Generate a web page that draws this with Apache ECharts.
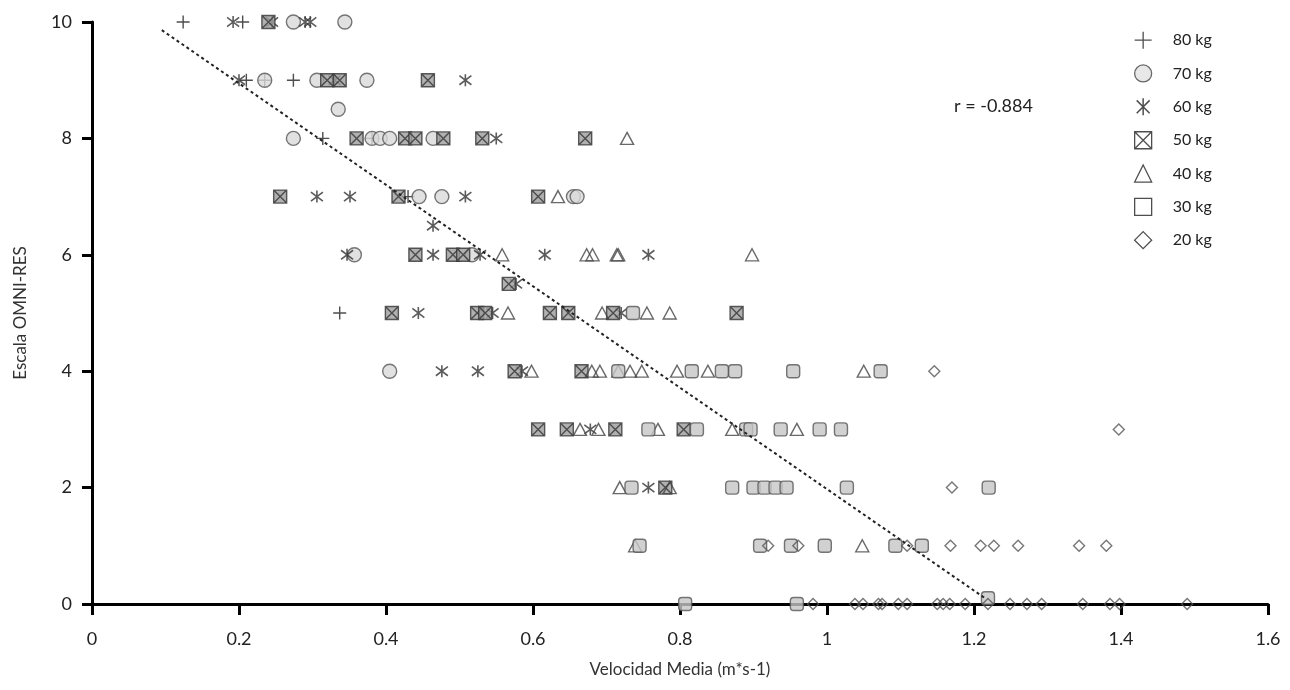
<!DOCTYPE html>
<html>
<head>
<meta charset="utf-8">
<script src="https://cdn.jsdelivr.net/npm/echarts@6/dist/echarts.min.js"></script>
<style>
  html, body { margin: 0; padding: 0; background: #fff; }
  #chart { width: 1290px; height: 690px; }
</style>
</head>
<body>
<div id="chart"></div>
<script>
// ---- Data (x = Velocidad Media, y = Escala OMNI-RES) ----
const seriesNames = ['80 kg', '70 kg', '60 kg', '50 kg', '40 kg', '30 kg', '20 kg'];

const kg80 = [[0.124,10],[0.205,10],[0.21,9],[0.235,9],[0.274,9],[0.314,8],[0.381,8],[0.43,7],[0.337,5]];

const kg70 = [[0.274,10],[0.344,10],[0.235,9],[0.306,9],[0.374,9],[0.335,8.5],[0.274,8],[0.381,8],
  [0.392,8],[0.405,8],[0.464,8],[0.445,7],[0.476,7],[0.655,7],[0.66,7],[0.357,6],[0.517,6],[0.405,4]];

const kg60 = [[0.192,10],[0.245,10],[0.29,10],[0.297,10],[0.2,9],[0.33,9],[0.508,9],[0.55,8],
  [0.306,7],[0.351,7],[0.508,7],[0.464,6.5],[0.347,6],[0.464,6],[0.528,6],[0.616,6],[0.757,6],
  [0.577,5.5],[0.444,5],[0.545,5],[0.72,5],[0.476,4],[0.525,4],[0.585,4],[0.678,3],[0.757,2]];

const kg50 = [[0.24,10],[0.32,9],[0.337,9],[0.457,9],[0.36,8],[0.426,8],[0.44,8],[0.478,8],[0.531,8],
  [0.671,8],[0.256,7],[0.417,7],[0.607,7],[0.44,6],[0.491,6],[0.505,6],[0.567,5.5],[0.408,5],
  [0.524,5],[0.535,5],[0.623,5],[0.648,5],[0.709,5],[0.877,5],[0.575,4],[0.666,4],[0.607,3],
  [0.646,3],[0.712,3],[0.805,3],[0.78,2]];

const kg40 = [[0.728,8],[0.634,7],[0.558,6],[0.673,6],[0.681,6],[0.714,6],[0.716,6],[0.898,6],
  [0.566,5],[0.694,5],[0.755,5],[0.786,5],[0.598,4],[0.68,4],[0.691,4],[0.716,4],[0.732,4],
  [0.748,4],[0.796,4],[0.838,4],[1.05,4],[0.664,3],[0.689,3],[0.77,3],[0.871,3],[0.959,3],
  [0.718,2],[0.786,2],[0.739,1],[1.048,1]];

const kg30 = [[0.736,5],[0.716,4],[0.816,4],[0.857,4],[0.875,4],[0.954,4],[1.073,4],
  [0.757,3],[0.823,3],[0.89,3],[0.896,3],[0.937,3],[0.99,3],[1.019,3],
  [0.734,2],[0.871,2],[0.9,2],[0.915,2],[0.93,2],[0.945,2],[1.027,2],[1.22,2],
  [0.745,1],[0.909,1],[0.951,1],[0.997,1],[1.093,1],[1.129,1],
  [0.807,0],[0.959,0],[1.219,0.1]];

const kg20 = [[1.146,4],[1.397,3],[1.17,2],[0.92,1],[0.961,1],[1.109,1],[1.168,1],[1.209,1],
  [1.227,1],[1.26,1],[1.343,1],[1.38,1],[0.981,0],[1.038,0],[1.049,0],[1.07,0],[1.075,0],
  [1.097,0],[1.109,0],[1.15,0],[1.158,0],[1.167,0],[1.188,0],[1.219,0],[1.249,0],[1.272,0],
  [1.292,0],[1.348,0],[1.385,0],[1.398,0],[1.49,0]];

// regression line endpoints
const trendX = [0.095, 1.215];
const trendY = [9.86, 0.1];
const rLabel = 'r = -0.884';

const xTicks = ['0', '0.2', '0.4', '0.6', '0.8', '1', '1.2', '1.4', '1.6'];
const yTicks = ['0', '2', '4', '6', '8', '10'];

// ---- Symbols & styles ----
const SYM_PLUS = 'path://M5,0L5,10M0,5L10,5';
const SYM_AST = 'path://M1.2,1.2L8.8,8.8M8.8,1.2L1.2,8.8M5,0L5,10';
const SYM_BOXX = 'path://M0,0L10,0L10,10L0,10ZM0,0L10,10M10,0L0,10';
const T = 'rgba(0,0,0,0)';

const styles = [
  { symbol: SYM_PLUS, size: 13, item: { color: T, borderColor: '#222', borderWidth: 1.4 } },
  { symbol: 'circle', size: 14, item: { color: '#d9d9d9', borderColor: '#555', borderWidth: 1.4 } },
  { symbol: SYM_AST, size: 12, item: { color: T, borderColor: '#333', borderWidth: 1.6 } },
  { symbol: SYM_BOXX, size: 13, item: { color: '#9c9c9c', borderColor: '#333', borderWidth: 1.4 } },
  { symbol: 'triangle', size: [13, 12], item: { color: T, borderColor: '#444', borderWidth: 1.4 } },
  { symbol: 'roundRect', size: 13, item: { color: '#c6c6c6', borderColor: '#555', borderWidth: 1.4 } },
  { symbol: 'diamond', size: [11, 11], item: { color: T, borderColor: '#555', borderWidth: 1.4 } }
];
const legendIcons = [
  { icon: SYM_PLUS, itemStyle: { color: T, borderColor: '#222', borderWidth: 1.3 } },
  { icon: 'circle', itemStyle: { color: '#e2e2e2', borderColor: '#444', borderWidth: 1.3 } },
  { icon: SYM_AST, itemStyle: { color: T, borderColor: '#222', borderWidth: 1.5 } },
  { icon: SYM_BOXX, itemStyle: { color: '#fff', borderColor: '#222', borderWidth: 1.3 } },
  { icon: 'triangle', itemStyle: { color: '#fff', borderColor: '#222', borderWidth: 1.3 } },
  { icon: 'rect', itemStyle: { color: '#fff', borderColor: '#222', borderWidth: 1.3 } },
  { icon: 'diamond', itemStyle: { color: '#fff', borderColor: '#222', borderWidth: 1.3 } }
];

const datasets = [kg80, kg70, kg60, kg50, kg40, kg30, kg20];
const FONT = 'Lato, "Open Sans", sans-serif';

const scatterSeries = datasets.map((d, i) => ({
  name: seriesNames[i],
  type: 'scatter',
  data: d,
  symbol: styles[i].symbol,
  symbolSize: styles[i].size,
  itemStyle: styles[i].item,
  emphasis: { disabled: true },
  z: 3 + i
}));

const trendSeries = {
  name: 'trend',
  type: 'line',
  data: trendX.map((x, i) => [x, trendY[i]]),
  symbol: 'none',
  lineStyle: { color: '#222', width: 2, type: [3, 3] },
  silent: true,
  z: 20
};

const chart = echarts.init(document.getElementById('chart'), null, { renderer: 'canvas' });
chart.setOption({
  animation: false,
  backgroundColor: '#fff',
  grid: { left: 92, right: 22, top: 22, bottom: 86, containLabel: false },
  title: {
    text: rLabel,
    left: 949, top: 92,
    textStyle: { fontFamily: FONT, fontSize: 18, fontWeight: 'normal', color: '#222' }
  },
  legend: {
    orient: 'vertical',
    left: 1129, top: 26, padding: 5,
    itemWidth: 17, itemHeight: 17, itemGap: 15,
    selectedMode: false,
    textStyle: { fontFamily: FONT, fontSize: 16, color: '#222', padding: [0, 0, 0, 16] },
    data: seriesNames.map((n, i) => ({ name: n, icon: legendIcons[i].icon, itemStyle: legendIcons[i].itemStyle }))
  },
  xAxis: {
    type: 'value', min: 0, max: 1.6, interval: 0.2,
    name: 'Velocidad Media (m*s-1)', nameLocation: 'middle', nameGap: 57,
    nameTextStyle: { fontFamily: FONT, fontSize: 17, color: '#333' },
    axisLine: { show: true, onZero: false, lineStyle: { color: '#000', width: 3 } },
    axisTick: { show: true, length: 11, lineStyle: { color: '#000', width: 3 } },
    axisLabel: {
      fontFamily: FONT, fontSize: 18, color: '#222', margin: 26,
      formatter: (v) => xTicks[Math.round(v / 0.2)]
    },
    splitLine: { show: false }
  },
  yAxis: {
    type: 'value', min: 0, max: 10, interval: 2,
    name: 'Escala OMNI-RES', nameLocation: 'middle', nameGap: 63, nameRotate: 90,
    nameTextStyle: { fontFamily: FONT, fontSize: 17, color: '#333' },
    axisLine: { show: true, onZero: false, lineStyle: { color: '#000', width: 3 } },
    axisTick: { show: true, length: 10, lineStyle: { color: '#000', width: 3 } },
    axisLabel: {
      fontFamily: FONT, fontSize: 18, color: '#222', margin: 20,
      formatter: (v) => yTicks[Math.round(v / 2)]
    },
    splitLine: { show: false }
  },
  series: [...scatterSeries, trendSeries]
});
</script>
</body>
</html>
